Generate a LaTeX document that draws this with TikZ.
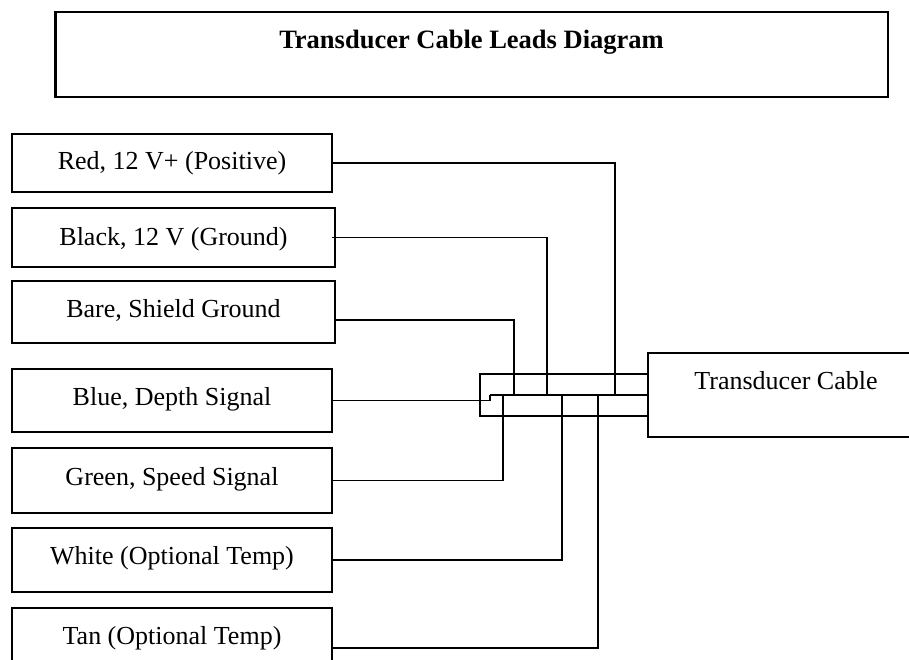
\documentclass[tikz,border=0pt]{standalone}
\usepackage{fontspec}
\setmainfont{Liberation Serif}
\begin{document}
\begin{tikzpicture}[x=1pt,y=-1pt,
  lead/.style={draw,line width=2.8pt,rectangle,inner sep=0pt,outer sep=0pt},
  lbl/.style={anchor=base,inner sep=0pt,font=\fontsize{26}{30}\selectfont},
  wire/.style={line width=1.6pt},
  cable/.style={draw,line width=2.8pt,rectangle,inner sep=0pt,outer sep=0pt}]
\useasboundingbox (0,0) rectangle (909,660);
\clip (0,0) rectangle (909,660);

% title
\node[lead, minimum width=832.5pt, minimum height=85pt] (titlebox) at (471.75,54.5) {};
\node[lbl, font=\fontsize{26.5}{30}\selectfont\bfseries] (titletext) at (471.5,49) {Transducer Cable Leads Diagram};

% lead boxes
\node[lead, minimum width=320pt, minimum height=58pt] (red) at (172,163) {};
\node[lead, minimum width=323pt, minimum height=59pt] (black) at (173.5,237.5) {};
\node[lead, minimum width=323pt, minimum height=62pt] (bare) at (173.5,312) {};
\node[lead, minimum width=320pt, minimum height=63pt] (blue) at (172,400.5) {};
\node[lead, minimum width=320pt, minimum height=65pt] (green) at (172,480.5) {};
\node[lead, minimum width=320pt, minimum height=64pt] (white) at (172,560) {};
\node[lead, minimum width=320pt, minimum height=80pt] (tan) at (172,648) {};

\node[lbl] (redt) at (172,170) {Red, 12 V+ (Positive)};
\node[lbl] (blackt) at (173.5,245) {Black, 12 V (Ground)};
\node[lbl] (baret) at (173.5,317) {Bare, Shield Ground};
\node[lbl] (bluet) at (172,405) {Blue, Depth Signal};
\node[lbl] (greent) at (172,485) {Green, Speed Signal};
\node[lbl] (whitet) at (172,564) {White (Optional Temp)};
\node[lbl] (tant) at (172,644) {Tan (Optional Temp)};

% junction points on the cable split line
\coordinate (jred) at (615,395);
\coordinate (jblack) at (547,395);
\coordinate (jbare) at (514,395);
\coordinate (split) at (490,395);
\coordinate (jgreen) at (503,395);
\coordinate (jwhite) at (562,395);
\coordinate (jtan) at (598,395);

% wires
\draw[wire] (red.east) -| (jred);
\draw[wire] ([xshift=-3pt]black.east) -| (jblack);
\draw[wire] ([yshift=-8pt]bare.east) -| (jbare);
\draw[wire] (blue.east) -| (split);
\draw[wire] (green.east) -| (jgreen);
\draw[wire] (white.east) -| (jwhite);
\draw[wire] (tan.east) -| (jtan);

% cable
\node[cable, minimum width=168pt, minimum height=42pt] (cab) at (564,395) {};
\draw[line width=2.8pt] (split) -- (cab.east);

% transducer cable box
\node[lead, minimum width=272pt, minimum height=84pt] (tc) at (784,395) {};
\node[lbl] (tctext) at (786,389) {Transducer Cable};
\end{tikzpicture}
\end{document}
